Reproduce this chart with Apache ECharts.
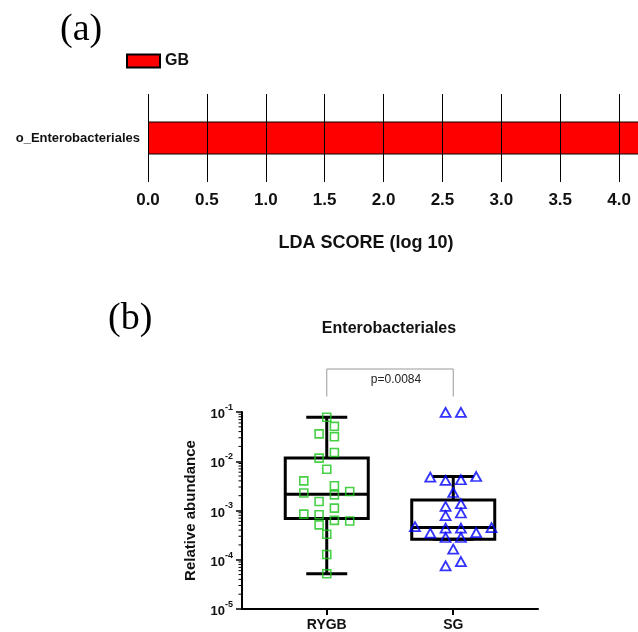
<!DOCTYPE html>
<html>
<head>
<meta charset="utf-8">
<script src="https://cdn.jsdelivr.net/npm/echarts@6/dist/echarts.min.js"></script>
<style>
html,body{margin:0;padding:0;background:#fff;}
#chart{width:638px;height:632px;}
</style>
</head>
<body>
<div id="chart"></div>
<script>
// ---------- Panel (a) data ----------
const ldaCategories = ['o_Enterobacteriales'];
const ldaGroup = 'GB';
const ldaScores = [4.3];
const ldaTicks = [0, 0.5, 1, 1.5, 2, 2.5, 3, 3.5, 4, 4.5];

// ---------- Panel (b) data ----------
const groups = ['RYGB', 'SG'];
const rygbValues = [0.078, 0.051, 0.036, 0.0315, 0.0151, 0.0116, 0.0069, 0.0040, 0.00226, 0.00318, 0.00208,
  0.00243, 0.00152, 0.00112, 0.000845, 0.00082, 0.00063, 0.00061, 0.00051, 0.00033, 0.000128, 0.000052];
const rygbSlots = [0, 0.5, -0.5, 0.5, 0.5, -0.5, 0, -1.5, -1.5, 0.5, 0.5, 1.5, -0.5, 0.5, -1.5, -0.5, 0.5, 1.5, -0.5, 0, 0, 0];
const sgValues = [0.098, 0.098, 0.00478, 0.0049, 0.00407, 0.00421, 0.00232, 0.00121, 0.00137, 0.00079, 0.00089,
  0.00047, 0.00045, 0.00044, 0.00044, 0.000348, 0.000357, 0.000283, 0.000283, 0.000164, 0.000075, 0.000092];
const sgSlots = [-0.5, 0.5, -1.5, 1.5, -0.5, 0.5, 0, -0.5, 0.5, -0.5, 0.5, -2.5, 2.5, -0.5, 0.5, -1.5, 1.5, -0.5, 0.5, 0, -0.5, 0.5];
// [low whisker, Q1, median, Q3, high whisker]
const rygbBox = [0.000052, 0.00069, 0.00215, 0.0116, 0.078];
const sgBox = [0.000262, 0.000262, 0.000452, 0.001625, 0.0049];
const pValueText = 'p=0.0084';
const yMin = 1e-5, yMax = 1e-1;

// ---------- derived ----------
const FONT = '"Liberation Sans", Arial, sans-serif';
const X_MIN = 0.33, X_MAX = 2.67;
const SLOT = 0.121;
const rygbData = rygbValues.map((v, i) => [1 + rygbSlots[i] * SLOT, v]);
const sgData = sgValues.map((v, i) => [2 + sgSlots[i] * SLOT, v]);
const boxData = [rygbBox, sgBox].map((b, i) => [i + 1].concat(b));
const minorData = [];
for (let e = Math.log10(yMin); e < Math.log10(yMax); e++) {
  for (let k = 2; k <= 9; k++) minorData.push([X_MIN, k * Math.pow(10, e)]);
}

const chart = echarts.init(document.getElementById('chart'), null, {renderer: 'canvas'});
const option = {
  animation: false,
  backgroundColor: '#ffffff',
  textStyle: {fontFamily: FONT},
  legend: {
    data: [ldaGroup], left: 126, top: 53, padding: 0, itemWidth: 33, itemHeight: 13, itemGap: 6,
    icon: 'rect',
    textStyle: {fontFamily: FONT, fontWeight: 'bold', fontSize: 16, color: '#111'}
  },
  graphic: [
    {type: 'text', left: 60, top: 11, style: {text: '(a)', font: '38px "Liberation Serif", "Times New Roman", serif', fill: '#000'}},
    {type: 'text', left: 108, top: 300, style: {text: '(b)', font: '38px "Liberation Serif", "Times New Roman", serif', fill: '#000'}},
    {type: 'text', x: 366, y: 243, style: {text: 'LDA SCORE (log 10)', font: 'bold 18px ' + FONT, fill: '#111', align: 'center', verticalAlign: 'middle'}},
    {type: 'text', x: 389, y: 329, style: {text: 'Enterobacteriales', font: 'bold 16px ' + FONT, fill: '#111', align: 'center', verticalAlign: 'middle'}}
  ],
  grid: [
    {left: 148, width: 530, top: 94, height: 88, containLabel: false, outerBoundsMode: 'none'},
    {left: 242, right: 100, top: 412, bottom: 23, containLabel: false, outerBoundsMode: 'none'}
  ],
  xAxis: [
    {
      gridIndex: 0, type: 'value', min: 0, max: 4.5, interval: 0.5,
      axisLine: {show: false}, axisTick: {show: false}, splitLine: {show: false},
      axisLabel: {formatter: v => v.toFixed(1), fontFamily: FONT, fontWeight: 'bold', fontSize: 17, color: '#111', margin: 10}
    },
    {
      gridIndex: 1, type: 'value', min: X_MIN, max: X_MAX,
      axisLine: {show: true, lineStyle: {color: '#000', width: 2}},
      axisTick: {show: true, customValues: [1, 2], length: 6, lineStyle: {color: '#000', width: 2}},
      axisLabel: {customValues: [1, 2], formatter: v => groups[Math.round(v) - 1] || '',
        fontFamily: FONT, fontWeight: 'bold', fontSize: 14, color: '#111', margin: 9},
      splitLine: {show: false}
    }
  ],
  yAxis: [
    {
      gridIndex: 0, type: 'category', data: ldaCategories,
      axisLine: {show: false}, axisTick: {show: false}, splitLine: {show: false},
      axisLabel: {fontFamily: FONT, fontWeight: 'bold', fontSize: 13, color: '#111', margin: 8}
    },
    {
      gridIndex: 1, type: 'log', logBase: 10, min: yMin, max: yMax,
      axisLine: {show: true, lineStyle: {color: '#000', width: 2}},
      axisTick: {show: true, length: 6, lineStyle: {color: '#000', width: 1.5}},
      splitLine: {show: false},
      minorTick: {show: false},
      name: 'Relative abundance', nameLocation: 'middle', nameGap: 44, nameRotate: 90,
      nameTextStyle: {fontFamily: FONT, fontWeight: 'bold', fontSize: 15, color: '#111'},
      axisLabel: {
        margin: 9,
        formatter: v => '{b|10}{s|' + Math.round(Math.log10(v)) + '}',
        rich: {
          b: {fontFamily: FONT, fontWeight: 'bold', fontSize: 13, color: '#111', lineHeight: 18, verticalAlign: 'bottom'},
          s: {fontFamily: FONT, fontWeight: 'bold', fontSize: 9, color: '#111', verticalAlign: 'top'}
        }
      }
    }
  ],
  series: [
    {
      name: ldaGroup, type: 'bar', xAxisIndex: 0, yAxisIndex: 0, data: ldaScores, barWidth: 33,
      itemStyle: {color: '#ff0000', borderColor: '#000', borderWidth: 1},
      markLine: {
        silent: true, symbol: ['none', 'none'], label: {show: false},
        lineStyle: {color: '#000', width: 1, type: 'solid'},
        emphasis: {disabled: true},
        data: ldaTicks.map(v => ({xAxis: v}))
      }
    },
    {
      name: 'minorTicks', type: 'custom', xAxisIndex: 1, yAxisIndex: 1, clip: false, silent: true,
      data: minorData, encode: {x: 0, y: 1},
      renderItem: (params, api) => {
        const p = api.coord([api.value(0), api.value(1)]);
        return {type: 'line', shape: {x1: p[0] - 3.5, y1: p[1], x2: p[0], y2: p[1]}, style: {stroke: '#000', lineWidth: 1}};
      }
    },
    {
      name: 'box', type: 'custom', xAxisIndex: 1, yAxisIndex: 1, clip: false, silent: true, z: 3,
      data: boxData, encode: {x: 0, y: [1, 2, 3, 4, 5]},
      renderItem: (params, api) => {
        const x = api.value(0);
        const yLo = api.coord([x, api.value(1)])[1];
        const yQ1 = api.coord([x, api.value(2)])[1];
        const yMed = api.coord([x, api.value(3)])[1];
        const yQ3 = api.coord([x, api.value(4)])[1];
        const yHi = api.coord([x, api.value(5)])[1];
        const cx = api.coord([x, api.value(3)])[0];
        const bh = 41.5, ch = 20.5;
        const st = {stroke: '#000', lineWidth: 3, fill: null};
        return {type: 'group', children: [
          {type: 'line', shape: {x1: cx, y1: yQ3, x2: cx, y2: yHi}, style: st},
          {type: 'line', shape: {x1: cx, y1: yQ1, x2: cx, y2: yLo}, style: st},
          {type: 'line', shape: {x1: cx - ch, y1: yHi, x2: cx + ch, y2: yHi}, style: st},
          {type: 'line', shape: {x1: cx - ch, y1: yLo, x2: cx + ch, y2: yLo}, style: st},
          {type: 'rect', shape: {x: cx - bh, y: yQ3, width: 2 * bh, height: yQ1 - yQ3}, style: {stroke: '#000', lineWidth: 3, fill: 'rgba(0,0,0,0)'}},
          {type: 'line', shape: {x1: cx - bh, y1: yMed, x2: cx + bh, y2: yMed}, style: st}
        ]};
      }
    },
    {
      name: 'bracket', type: 'custom', xAxisIndex: 1, yAxisIndex: 1, clip: false, silent: true,
      data: [[1, 2, yMax]], encode: {x: [0, 1], y: 2},
      renderItem: (params, api) => {
        const pL = api.coord([api.value(0), api.value(2)]);
        const pR = api.coord([api.value(1), api.value(2)]);
        const top = pL[1] - 43, leg = pL[1] - 15.5;
        return {type: 'group', children: [
          {type: 'polyline', shape: {points: [[pL[0], leg], [pL[0], top], [pR[0], top], [pR[0], leg]]}, style: {stroke: '#999', lineWidth: 1, fill: null}},
          {type: 'text', style: {text: pValueText, x: (pL[0] + pR[0]) / 2 + 6, y: top + 11, align: 'center', verticalAlign: 'middle', font: '12px ' + FONT, fill: '#222'}}
        ]};
      }
    },
    {
      name: 'RYGB', type: 'scatter', xAxisIndex: 1, yAxisIndex: 1, data: rygbData, z: 4,
      symbol: 'rect', symbolSize: 8,
      itemStyle: {color: 'rgba(0,0,0,0)', borderColor: '#19c419', borderWidth: 1.6}
    },
    {
      name: 'SG', type: 'scatter', xAxisIndex: 1, yAxisIndex: 1, data: sgData, z: 4,
      symbol: 'triangle', symbolSize: [10, 9],
      itemStyle: {color: 'rgba(0,0,0,0)', borderColor: '#0000ff', borderWidth: 1.8}
    }
  ]
};
chart.setOption(option);
</script>
</body>
</html>
